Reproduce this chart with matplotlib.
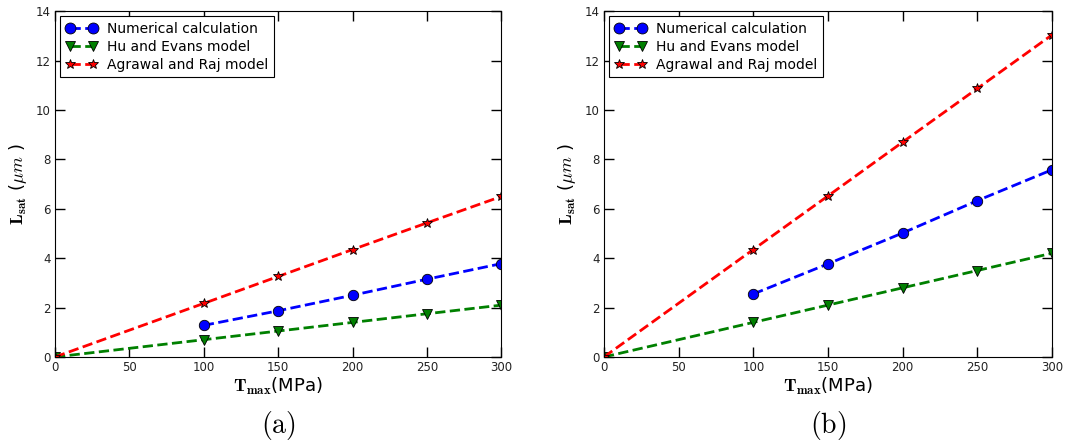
import numpy as np
import matplotlib.pyplot as plt

plt.rcParams['mathtext.fontset'] = 'cm'

# datos
t_num = [100, 150, 200, 250, 300]
t_mod = [0, 100, 150, 200, 250, 300]

num_a = [1.28, 1.87, 2.5, 3.15, 3.78]
hu_a = [0, 0.7, 1.05, 1.4, 1.75, 2.1]
ar_a = [0, 2.17, 3.26, 4.35, 5.43, 6.5]

num_b = [2.55, 3.77, 5.02, 6.33, 7.58]
hu_b = [0, 1.4, 2.1, 2.8, 3.5, 4.2]
ar_b = [0, 4.35, 6.52, 8.7, 10.87, 13.04]

xticks = [0, 50, 100, 150, 200, 250, 300]
yticks = [0, 2, 4, 6, 8, 10, 12, 14]

fig = plt.figure(figsize=(10.67, 4.46), dpi=100)
ax1 = fig.add_axes([0.0515, 0.1996, 0.4185, 0.7754])
ax2 = fig.add_axes([0.566, 0.1996, 0.420, 0.7754])

for ax, num, hu, ar, tag in [(ax1, num_a, hu_a, ar_a, '(a)'), (ax2, num_b, hu_b, ar_b, '(b)')]:
    ax.plot(t_num, num, 'o--', color='blue', mec='black', mew=0.6, ms=7.5, lw=2,
            label='Numerical calculation')
    ax.plot(t_mod, hu, 'v--', color='green', mec='black', mew=0.6, ms=7.5, lw=2,
            label='Hu and Evans model')
    ax.plot(t_mod, ar, '*--', color='red', mec='black', mew=0.6, ms=7, lw=2,
            label='Agrawal and Raj model')
    ax.set_xlim(0, 300)
    ax.set_ylim(0, 14)
    ax.set_xticks(xticks)
    ax.set_yticks(yticks)
    ax.tick_params(direction='in', top=True, right=True, length=7, width=1,
                   labelsize=8.5, labelcolor='#222222', pad=3)
    ax.set_xlabel(r'$\mathbf{T_{max}}$(MPa)', fontsize=13, labelpad=1)
    ax.set_ylabel(r'$\mathbf{L_{sat}}$ ($\mu m$ )', fontsize=13, labelpad=5)
    leg = ax.legend(loc='upper left', numpoints=2, fontsize=10, fancybox=False,
                    edgecolor='black', framealpha=1, borderaxespad=0.35,
                    handlelength=2.3, handletextpad=0.7, labelspacing=0.3,
                    markerscale=1.05)
    leg.get_frame().set_linewidth(0.8)
    ax.text(0.5, -0.197, r'$\mathrm{' + tag + '}$', transform=ax.transAxes,
            ha='center', va='center', fontsize=20)

fig.savefig('out.png', dpi=100)
